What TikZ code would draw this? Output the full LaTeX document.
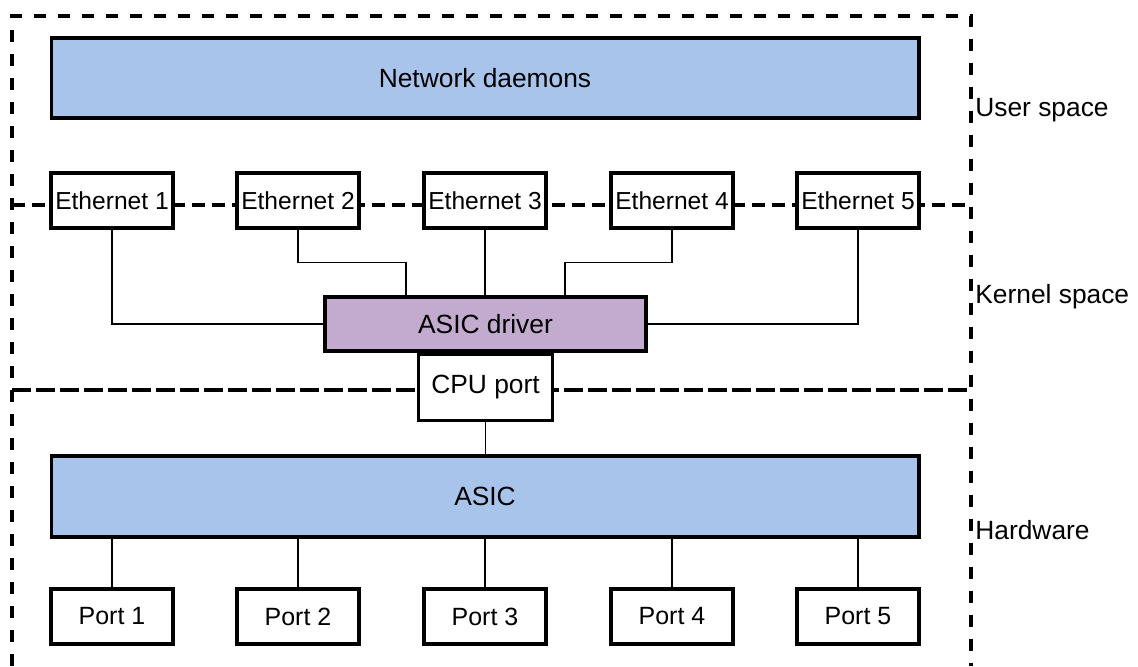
\documentclass[tikz,border=0pt]{standalone}
\usepackage{xcolor}
\usepackage{fontspec}
\setmainfont{Liberation Sans}
\usepackage{tikz}
\definecolor{boxblue}{HTML}{A9C4EB}
\definecolor{boxpurple}{HTML}{C3ABD0}
\tikzset{main node/.style={rectangle,draw,line width=1.8pt,fill=white,inner sep=0pt,
            minimum width=2.44cm,minimum height=1.1cm,font=\fontsize{14.2}{17}\selectfont},
         wide node/.style={main node,fill=boxblue,minimum width=17.36cm,minimum height=1.6cm,
            font=\fontsize{15}{18}\selectfont},
         layer line/.style={line width=2.2pt,dash pattern=on 0.24cm off 0.24cm},
         link/.style={line width=0.9pt},
         layer label/.style={anchor=west,inner sep=0pt,font=\fontsize{15}{18}\selectfont},
            }
\begin{document}
\begin{tikzpicture}[x=0.02cm,y=-0.02cm]
	\useasboundingbox (0,0) rectangle (1138,666);
	% layers
	\coordinate (TL) at (12,16);
	\coordinate (TR) at (971,16);
	\coordinate (BL) at (12,666);
	\coordinate (BR) at (971,666);
	\draw[layer line] (BL) -- (TL) -- (TR) -- (BR);
	\draw[layer line,dash pattern=on 0.26cm off 0.14cm] (12,205) -- (971,205);
	\draw[layer line,dash pattern=on 0.38cm off 0.1cm] (12,390) -- (971,390);
	\node[layer label] (U) at (975,110) {User space};
	\node[layer label] (K) at (975,297) {Kernel space};
	\node[layer label] (H) at (975,530) {Hardware};
	
	\node[wide node] (D) at (485,78) {Network daemons};
	\node[main node,font=\fontsize{14}{17}\selectfont] (E1) at (112,200.5) {Ethernet 1};
	\node[main node,font=\fontsize{14}{17}\selectfont] (E2) at (298,200.5) {Ethernet 2};
	\node[main node,font=\fontsize{14}{17}\selectfont] (E3) at (485,200.5) {Ethernet 3};
	\node[main node,font=\fontsize{14}{17}\selectfont] (E4) at (672,200.5) {Ethernet 4};
	\node[main node,font=\fontsize{14}{17}\selectfont] (E5) at (858,200.5) {Ethernet 5};
	\node[main node,fill=boxpurple,minimum width=6.42cm,minimum height=1.08cm,
		font=\fontsize{15}{18}\selectfont] (DRV) at (485.5,324) {ASIC driver};
	\node[main node,minimum width=2.68cm,minimum height=1.32cm,anchor=north,
		font=\fontsize{15}{18}\selectfont] (CPU) at (DRV.south) {CPU port};
	\node[wide node,minimum height=1.62cm] (A) at (485,496.5) {ASIC};
	\node[main node] (P1) at (112,616.5) {Port 1};
	\node[main node] (P2) at (298,616.5) {Port 2};
	\node[main node] (P3) at (485,616.5) {Port 3};
	\node[main node] (P4) at (672,616.5) {Port 4};
	\node[main node] (P5) at (858,616.5) {Port 5};
	
	\draw[link] (E1.south) |- (DRV.west);
	\draw[link] (E2.south) -- ++(0,33) -| ([xshift=-1.59cm]DRV.north);
	\draw[link] (E3.south) -- (E3.south |- DRV.north);
	\draw[link] (E4.south) -- ++(0,33) -| ([xshift=1.59cm]DRV.north);
	\draw[link] (E5.south) |- (DRV.east);
	\draw[link] (CPU.south) -- (CPU.south |- A.north);
	\draw[link] (P1.north) -- (P1.north |- A.south);
	\draw[link] (P2.north) -- (P2.north |- A.south);
	\draw[link] (P3.north) -- (P3.north |- A.south);
	\draw[link] (P4.north) -- (P4.north |- A.south);
	\draw[link] (P5.north) -- (P5.north |- A.south);
\end{tikzpicture}
\end{document}
